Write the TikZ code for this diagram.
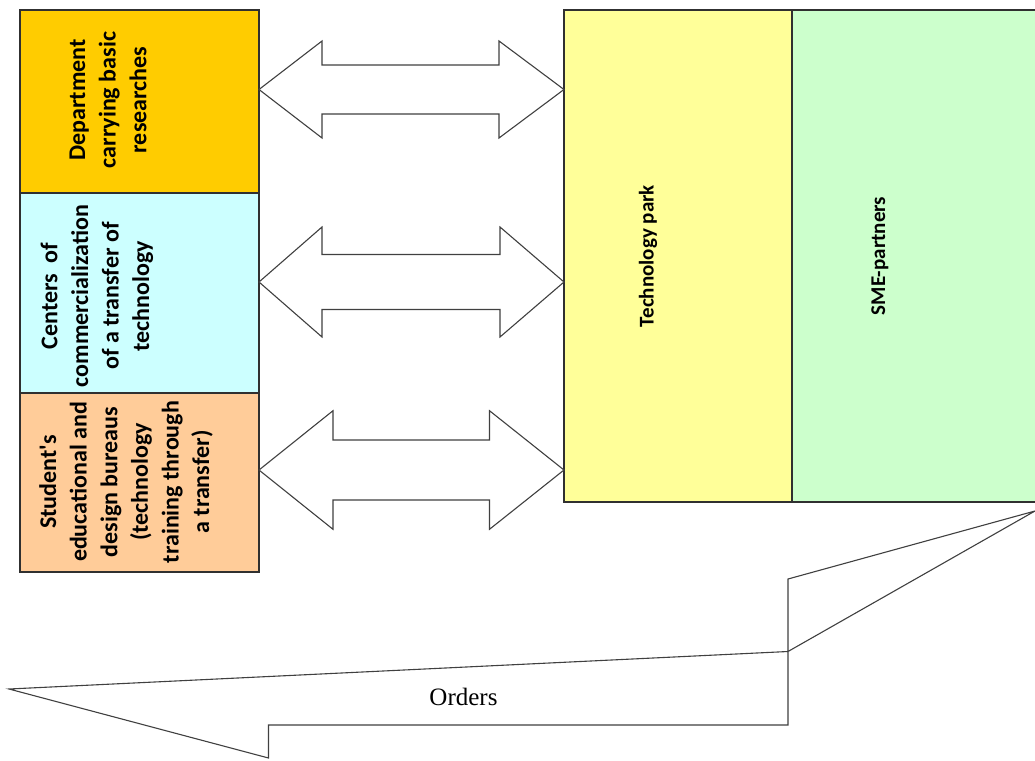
\documentclass[tikz,border=0pt]{standalone}
\usepackage{fontspec}
\setmainfont{Liberation Serif}
\newfontfamily\calfont{Carlito}
\usepackage{xcolor}
\definecolor{deptorange}{HTML}{FFCC00}
\definecolor{centercyan}{HTML}{CCFFFF}
\definecolor{studentpeach}{HTML}{FFCC99}
\definecolor{parkyellow}{HTML}{FFFF99}
\definecolor{smegreen}{HTML}{CCFFCC}
\definecolor{edgegray}{HTML}{303030}
\usepackage{tikz}
\usetikzlibrary{positioning}

\begin{document}
\begin{tikzpicture}[x=1pt, y=-1pt,
        unit-box/.style={draw=edgegray, line width=1.4pt, inner sep=0pt, outer sep=0pt, minimum width=239pt},
        unit-text/.style={rotate=90, align=center, font=\calfont\bfseries\fontsize{24}{30.6}\selectfont},
        side-text/.style={rotate=90, font=\calfont\bfseries\fontsize{21}{25}\selectfont},
        block-arrow/.style={draw=black!75, line width=1.1pt, fill=white, line join=miter}]
            \useasboundingbox (0, 0) rectangle (1035, 760);
            \node[unit-box, fill=deptorange, minimum height=183pt] (dept-box) at (139.5, 101.5) {};
            \node[unit-box, fill=centercyan, minimum height=200pt, below=0pt of dept-box] (center-box) {};
            \node[unit-box, fill=studentpeach, minimum height=179pt, below=0pt of center-box] (student-box) {};
            \node[unit-box, fill=parkyellow, minimum width=228pt, minimum height=492pt] (park-box) at (678, 256) {};
            \node[unit-box, fill=smegreen, minimum width=253pt, minimum height=492pt, right=0pt of park-box] (sme-box) {};
            \node[unit-text] (dept-text) at (108, 100) {Department\\carrying basic\\researches};
            \node[unit-text] (center-text) at (97, 296) {Centers~~of\\commercialization\\of a transfer of\\technology};
            \node[unit-text] (student-text) at (126, 482) {Student's\\educational and\\design bureaus\\(technology\\training through\\a transfer)};
            \node[side-text] (park-text) at (648, 256) {Technology park};
            \node[side-text] (sme-text) at (880, 256) {SME-partners};
            \foreach \yc/\hh/\sh/\lb/\rb in {89.5/48.5/24.5/322/499, 282/55/27.5/322/500, 470/59.3/30/333/489.5}
                \draw[block-arrow] (259, \yc) -- (\lb, \yc-\hh) -- (\lb, \yc-\sh) -- (\rb, \yc-\sh) -- (\rb, \yc-\hh)
                    -- (564, \yc) -- (\rb, \yc+\hh) -- (\rb, \yc+\sh) -- (\lb, \yc+\sh) -- (\lb, \yc+\hh) -- cycle;
            %\draw[block-arrow] (sme-box.south east) -- (788, 579);
            \draw[block-arrow] (1035, 511) -- (788, 579) -- (788, 725) -- (268.5, 725) -- (268.5, 758)
                -- (9, 689) -- (788, 651.5) -- cycle;
            \node[font=\fontsize{25}{30}\selectfont] (orders-label) at (463.5, 696.5) {Orders};
        \end{tikzpicture}
\end{document}
